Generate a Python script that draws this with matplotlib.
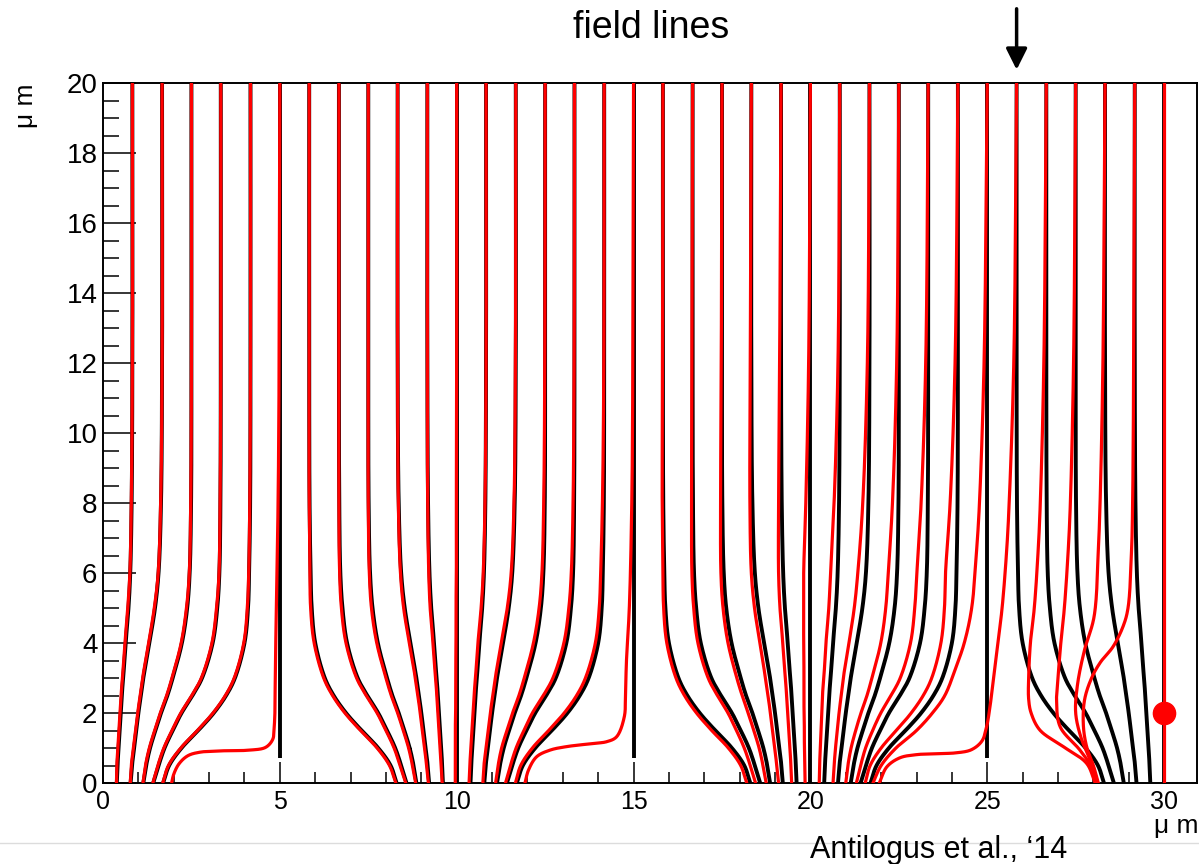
import numpy as np
import matplotlib
matplotlib.use("Agg")
import matplotlib.pyplot as plt
from matplotlib.lines import Line2D
from matplotlib.ticker import MultipleLocator

plt.rcParams['font.family'] = ['Liberation Sans', 'DejaVu Sans']

# ---------------- data ----------------
# heights (um) at which every regular field line is sampled
HEIGHTS = [0, 0.5, 1, 1.5, 2, 2.5, 3, 4, 5, 6, 8, 12, 20]

# black (unperturbed) field lines: distance from the collecting centre
black_T1 = [0.39, 0.41, 0.44, 0.47, 0.50, 0.53, 0.57, 0.64, 0.72, 0.77, 0.81, 0.83, 0.83]
black_T2 = [0.78, 0.82, 0.88, 0.94, 1.00, 1.07, 1.14, 1.31, 1.47, 1.57, 1.64, 1.67, 1.67]
black_T3 = [1.14, 1.22, 1.33, 1.48, 1.64, 1.82, 1.97, 2.23, 2.38, 2.45, 2.49, 2.50, 2.50]
black_T4 = [1.42, 1.57, 1.74, 1.97, 2.22, 2.53, 2.80, 3.10, 3.23, 3.29, 3.32, 3.33, 3.33]
black_T5 = [1.70, 1.87, 2.22, 2.69, 3.13, 3.48, 3.73, 4.00, 4.10, 4.13, 4.16, 4.17, 4.17]
black_offsets = [black_T1, black_T2, black_T3, black_T4, black_T5]
black_centres = [0, 10, 20, 30]          # collecting wells
black_straight = [10, 20, 30]             # lines straight down the centre
channel_stops = [5, 15, 25]               # lines ending above the surface
channel_stop_end = 0.71

# red (with charge) field lines, x at HEIGHTS
red_regular = [
    [0.38, 0.39, 0.42, 0.45, 0.48, 0.51, 0.55, 0.62, 0.70, 0.76, 0.80, 0.83, 0.83],
    [0.77, 0.80, 0.86, 0.92, 0.98, 1.05, 1.12, 1.29, 1.45, 1.56, 1.63, 1.67, 1.67],
    [1.13, 1.20, 1.31, 1.46, 1.62, 1.80, 1.95, 2.21, 2.36, 2.44, 2.48, 2.50, 2.50],
    [1.41, 1.55, 1.72, 1.95, 2.20, 2.51, 2.78, 3.08, 3.21, 3.28, 3.31, 3.33, 3.33],
    [1.69, 1.85, 2.20, 2.67, 3.11, 3.46, 3.71, 3.98, 4.08, 4.12, 4.15, 4.17, 4.17],
    [8.28, 8.10, 7.75, 7.28, 6.84, 6.49, 6.24, 5.97, 5.87, 5.85, 5.83, 5.83, 5.83],
    [8.56, 8.40, 8.23, 8.00, 7.75, 7.44, 7.17, 6.87, 6.74, 6.69, 6.67, 6.67, 6.67],
    [8.84, 8.75, 8.64, 8.49, 8.33, 8.15, 8.00, 7.74, 7.59, 7.53, 7.50, 7.50, 7.50],
    [9.20, 9.15, 9.09, 9.03, 8.97, 8.90, 8.83, 8.66, 8.50, 8.41, 8.35, 8.33, 8.33],
    [9.59, 9.56, 9.53, 9.50, 9.47, 9.44, 9.40, 9.33, 9.25, 9.21, 9.18, 9.17, 9.17],
    [9.96, 9.96, 9.96, 9.96, 9.97, 9.97, 9.97, 9.98, 9.98, 9.99, 9.99, 10.0, 10.0],
    [10.35, 10.37, 10.40, 10.43, 10.46, 10.49, 10.53, 10.60, 10.69, 10.75, 10.80, 10.83, 10.83],
    [10.74, 10.77, 10.83, 10.89, 10.95, 11.02, 11.09, 11.26, 11.43, 11.54, 11.62, 11.66, 11.67],
    [11.10, 11.17, 11.27, 11.42, 11.58, 11.76, 11.91, 12.17, 12.33, 12.41, 12.46, 12.49, 12.50],
    [11.38, 11.52, 11.68, 11.90, 12.14, 12.45, 12.72, 13.03, 13.17, 13.24, 13.29, 13.32, 13.33],
    [11.66, 11.81, 12.14, 12.60, 13.04, 13.39, 13.64, 13.92, 14.03, 14.07, 14.12, 14.16, 14.17],
    [18.20, 18.03, 17.68, 17.21, 16.78, 16.44, 16.20, 15.94, 15.85, 15.83, 15.81, 15.82, 15.83],
    [18.45, 18.30, 18.13, 17.91, 17.67, 17.37, 17.11, 16.82, 16.70, 16.65, 16.64, 16.65, 16.67],
    [18.75, 18.66, 18.55, 18.40, 18.24, 18.07, 17.92, 17.67, 17.53, 17.47, 17.46, 17.48, 17.50],
    [19.10, 19.05, 18.99, 18.93, 18.87, 18.80, 18.73, 18.57, 18.42, 18.33, 18.29, 18.30, 18.33],
    [19.47, 19.45, 19.42, 19.39, 19.36, 19.33, 19.29, 19.22, 19.14, 19.10, 19.10, 19.13, 19.17],
    [19.85, 19.84, 19.83, 19.83, 19.82, 19.82, 19.82, 19.81, 19.81, 19.81, 19.87, 19.95, 20.00],
    [20.25, 20.26, 20.28, 20.30, 20.32, 20.34, 20.38, 20.44, 20.52, 20.57, 20.67, 20.78, 20.83],
    [20.64, 20.67, 20.71, 20.76, 20.81, 20.87, 20.93, 21.09, 21.24, 21.34, 21.48, 21.61, 21.67],
    [21.00, 21.06, 21.15, 21.28, 21.43, 21.60, 21.74, 21.99, 22.13, 22.20, 22.32, 22.44, 22.50],
    [21.30, 21.42, 21.56, 21.76, 21.99, 22.28, 22.54, 22.83, 22.95, 23.01, 23.13, 23.26, 23.33],
    [21.55, 21.69, 22.00, 22.43, 22.85, 23.19, 23.43, 23.69, 23.79, 23.82, 23.95, 24.09, 24.17],
]

# red lines that bend strongly: explicit (x, y) knots
red5_x = [5.0, 4.98, 4.95, 4.90, 4.87, 4.86, 4.84, 4.80, 4.60, 4.16, 3.40, 2.74, 2.40, 2.15, 2.00, 1.94]
red5_y = [20, 12, 8, 5, 3, 2, 1.6, 1.25, 1.02, 0.94, 0.92, 0.88, 0.78, 0.55, 0.25, 0]
red15_x = [15.0, 14.98, 14.95, 14.88, 14.80, 14.77, 14.74, 14.52, 14.24, 13.86, 13.11, 12.64, 12.26, 12.03, 11.93]
red15_y = [20, 12, 8, 5, 3.5, 2.5, 1.9, 1.32, 1.18, 1.13, 1.04, 0.94, 0.75, 0.37, 0]
red25_x = [25.0, 24.91, 24.78, 24.70, 24.56, 24.35, 24.12, 23.80, 23.45, 23.00, 22.42, 22.00, 21.77]
red25_y = [20, 12, 8, 6.66, 5, 4, 3.32, 2.5, 2.0, 1.5, 1.0, 0.5, 0]
red258_x = [25.83, 25.75, 25.62, 25.55, 25.42, 25.30, 25.18, 25.08, 24.98, 24.85, 24.55, 24.10, 23.60,
            23.00, 22.53, 22.16, 21.95]
red258_y = [20, 12, 8, 6.66, 5, 4, 3, 2.2, 1.6, 1.2, 0.95, 0.86, 0.84, 0.81, 0.72, 0.46, 0]
red267_x = [26.67, 26.60, 26.50, 26.44, 26.33, 26.22, 26.17, 26.17, 26.24, 26.49, 27.15, 27.81, 28.05]
red267_y = [20, 12, 8, 6.66, 5, 4, 3, 2.4, 2.0, 1.51, 1.04, 0.56, 0]
red275_x = [27.5, 27.44, 27.35, 27.29, 27.18, 27.08, 27.00, 26.96, 27.06, 27.62, 27.95, 28.09]
red275_y = [20, 12, 8, 6.66, 5, 4, 3, 2.37, 1.61, 0.94, 0.45, 0]
red283_x = [28.33, 28.27, 28.19, 28.14, 28.02, 27.75, 27.55, 27.50, 27.65, 27.85, 28.00, 28.12]
red283_y = [20, 12, 8, 6.66, 4.75, 3.8, 2.8, 2.0, 1.3, 0.8, 0.4, 0]
red292_x = [29.17, 29.14, 29.11, 29.08, 28.98, 28.85, 28.56, 28.20, 27.95, 27.75, 27.72, 27.82, 28.00, 28.14]
red292_y = [20, 12, 8, 6.66, 5, 4.5, 3.9, 3.45, 3.0, 2.37, 1.6, 1.0, 0.5, 0]
red30_x = [30.0, 30.0]
red30_y = [20, 0]
red_special = [(red5_x, red5_y), (red15_x, red15_y), (red25_x, red25_y),
               (red258_x, red258_y), (red267_x, red267_y), (red275_x, red275_y),
               (red283_x, red283_y), (red292_x, red292_y), (red30_x, red30_y)]

charge_x, charge_y = [30.0], [2.0]
arrow_x = 25.83

X_TICKS = [0, 5, 10, 15, 20, 25, 30]
Y_TICKS = [0, 2, 4, 6, 8, 10, 12, 14, 16, 18, 20]


# ---------------- drawing helpers ----------------
def smooth(xs, ys, n=40):
    """Centripetal Catmull-Rom curve through the knots (drawing only)."""
    P = np.column_stack([np.asarray(xs, float), np.asarray(ys, float)])
    if len(P) < 3:
        return P[:, 0], P[:, 1]
    P = np.vstack([2 * P[0] - P[1], P, 2 * P[-1] - P[-2]])
    out = []
    for i in range(1, len(P) - 2):
        p0, p1, p2, p3 = P[i - 1], P[i], P[i + 1], P[i + 2]

        def tj(ti, a, b):
            return ti + max(np.hypot(*(b - a)), 1e-6) ** 0.5
        t0 = 0.0
        t1 = tj(t0, p0, p1)
        t2 = tj(t1, p1, p2)
        t3 = tj(t2, p2, p3)
        t = np.linspace(t1, t2, n)[:, None]
        A1 = (t1 - t) / (t1 - t0) * p0 + (t - t0) / (t1 - t0) * p1
        A2 = (t2 - t) / (t2 - t1) * p1 + (t - t1) / (t2 - t1) * p2
        A3 = (t3 - t) / (t3 - t2) * p2 + (t - t2) / (t3 - t2) * p3
        B1 = (t2 - t) / (t2 - t0) * A1 + (t - t0) / (t2 - t0) * A2
        B2 = (t3 - t) / (t3 - t1) * A2 + (t - t1) / (t3 - t1) * A3
        C = (t2 - t) / (t2 - t1) * B1 + (t - t1) / (t2 - t1) * B2
        out.append(C)
    C = np.vstack(out)
    return C[:, 0], C[:, 1]


W, H = 1199, 864
fig = plt.figure(figsize=(W / 100, H / 100), dpi=100)
ax = fig.add_axes([103 / W, 81 / H, 1094 / W, 700 / H])
XMAX = 1094 / 35.37
ax.set_xlim(0, XMAX)
ax.set_ylim(0, 20)

BLACK_LW = 2.8
RED_LW = 2.3

# black lines
for c in black_centres:
    for off in black_offsets:
        for sgn in (-1, 1):
            xs = [c + sgn * o for o in off]
            if min(xs) < 0 or max(xs) > 30.01:
                continue
            x, y = smooth(xs, HEIGHTS)
            ax.plot(x, y, color='black', lw=BLACK_LW, zorder=2, solid_capstyle='butt')
for c in black_straight:
    ax.plot([c, c], [0, 20], color='black', lw=BLACK_LW, zorder=2)
for c in channel_stops:
    ax.plot([c, c], [channel_stop_end, 20], color='black', lw=BLACK_LW, zorder=2,
            solid_capstyle='butt')

# red lines
for xs in red_regular:
    x, y = smooth(xs, HEIGHTS)
    ax.plot(x, y, color='#ff0000', lw=RED_LW, zorder=3)
for xs, ys in red_special:
    x, y = smooth(xs, ys)
    ax.plot(x, y, color='#ff0000', lw=RED_LW, zorder=3)

ax.plot(charge_x, charge_y, 'o', color='#ff0000', ms=16, zorder=4, clip_on=False)

# axes styling
for s in ax.spines.values():
    s.set_linewidth(1.4)
ax.set_xticks(X_TICKS)
ax.set_yticks(Y_TICKS)
ax.xaxis.set_minor_locator(MultipleLocator(1))
ax.yaxis.set_minor_locator(MultipleLocator(0.5))
ax.tick_params(axis='x', which='major', direction='in', length=15, width=1.1, labelsize=18, pad=5)
ax.tick_params(axis='x', which='minor', direction='in', length=8, width=1.1)
ax.tick_params(axis='y', which='major', direction='in', length=24, width=1.1, labelsize=20, pad=4)
ax.tick_params(axis='y', which='minor', direction='in', length=11.5, width=1.1)

ax.text(-0.070, 1.0, 'μ m', rotation=90, ha='center', va='top', fontsize=19,
        transform=ax.transAxes)
ax.text(1.001, -0.061, 'μ m', ha='right', va='center', fontsize=19,
        transform=ax.transAxes)

# title
fig.text(651 / W, (H - 38) / H, 'field lines', ha='center', va='baseline', fontsize=27)

# arrow
ax.annotate('', xy=(arrow_x, 20.3), xytext=(arrow_x, 22.2),
            arrowprops=dict(arrowstyle='-|>', lw=2.5, color='black', mutation_scale=32),
            annotation_clip=False)

# slide decoration
fig.add_artist(Line2D([0, 1], [(H - 843) / H, (H - 843) / H], transform=fig.transFigure,
                      color='#dcdcdc', lw=1.0))
fig.text(810 / W, (H - 858) / H, 'Antilogus et al., \u201814', ha='left', va='baseline',
         fontsize=22, color='black')

fig.savefig('out.png', dpi=100)
